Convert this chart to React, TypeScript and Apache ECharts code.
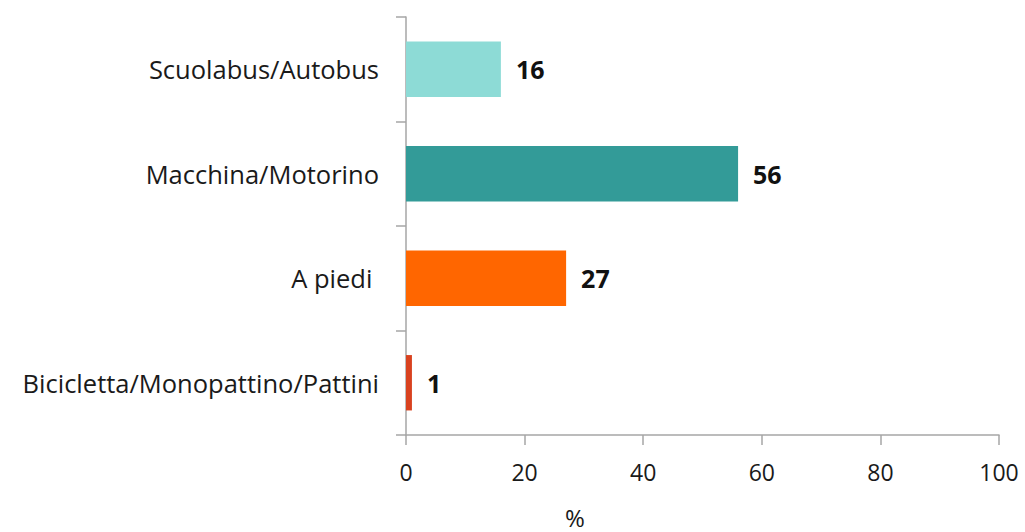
import React, { useEffect, useRef } from "react";
import * as echarts from "echarts";

const categories = [
  "Bicicletta/Monopattino/Pattini",
  "A piedi ",
  "Macchina/Motorino",
  "Scuolabus/Autobus",
];
const values = [1, 27, 56, 16];
const colors = ["#d9421f", "#ff6600", "#339b98", "#8ddbd6"];
const xTicks = [0, 20, 40, 60, 80, 100];
const axisName = "%";

export default function App() {
  const ref = useRef<HTMLDivElement>(null);
  useEffect(() => {
    if (!ref.current) return;
    const chart = echarts.init(ref.current, undefined, { renderer: "svg" });
    const font = "'Open Sans', Lato, sans-serif";
    chart.setOption({
      animation: false,
      grid: { left: 406, right: 26, top: 17, bottom: 97 },
      xAxis: {
        type: "value",
        min: xTicks[0],
        max: xTicks[xTicks.length - 1],
        interval: 20,
        splitLine: { show: false },
        axisLine: { show: true, lineStyle: { color: "#a6a6a6", width: 1.5 } },
        axisTick: { show: true, length: 10, lineStyle: { color: "#a6a6a6", width: 1.5 } },
        axisLabel: { color: "#1a1a1a", fontSize: 23, fontFamily: font, margin: 25 },
      },
      yAxis: {
        type: "category",
        data: categories,
        axisLine: { show: true, lineStyle: { color: "#a6a6a6", width: 1.5 } },
        axisTick: { show: true, length: 10, lineStyle: { color: "#a6a6a6", width: 1.5 } },
        axisLabel: { color: "#1a1a1a", fontSize: 25.5, fontFamily: font, margin: 27 },
      },
      graphic: [
        {
          type: "text",
          left: 565,
          top: 505,
          style: { text: axisName, fontSize: 24, fontFamily: font, fill: "#1a1a1a" },
        },
      ],
      series: [
        {
          type: "bar",
          barWidth: "53%",
          data: values.map((v, i) => ({ value: v, itemStyle: { color: colors[i] } })),
          label: {
            show: true,
            position: "right",
            distance: 15,
            fontSize: 25,
            fontWeight: "bold",
            fontFamily: font,
            color: "#111",
          },
        },
      ],
    });
    return () => chart.dispose();
  }, []);
  return <div ref={ref} style={{ width: 1025, height: 532, position: "absolute", left: 0, top: 0 }} />;
}
